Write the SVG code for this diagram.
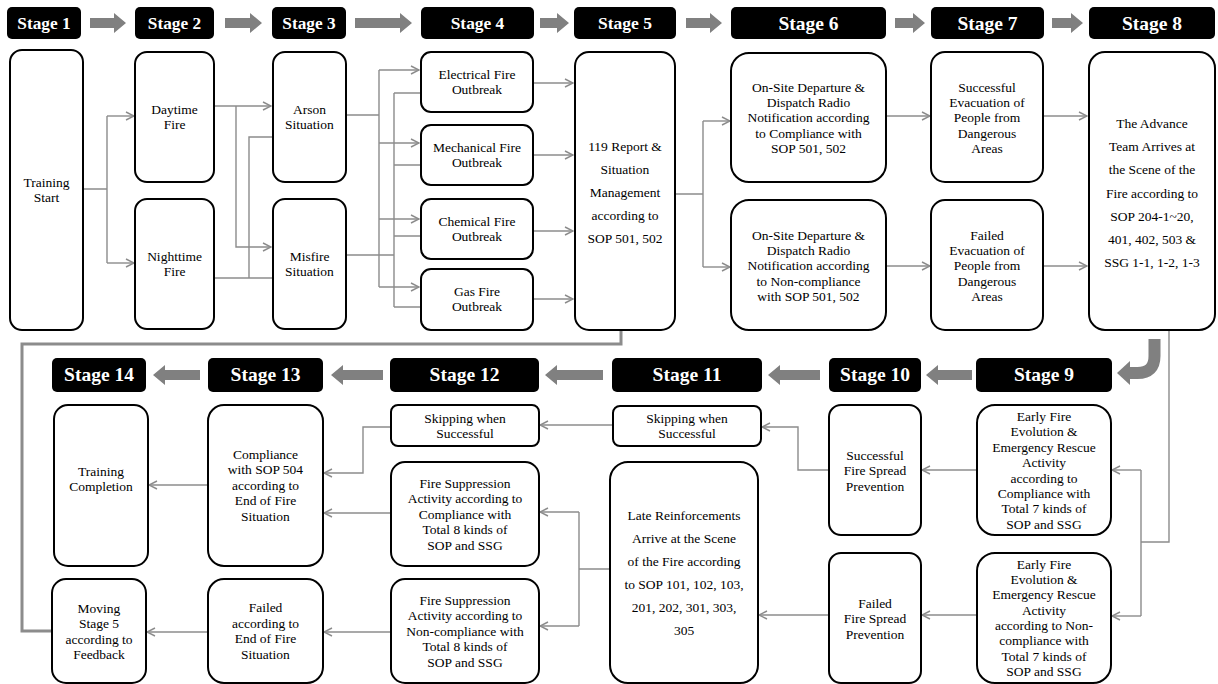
<svg xmlns="http://www.w3.org/2000/svg" width="1218" height="684" viewBox="0 0 1218 684">
<defs>
<marker id="ah" viewBox="0 0 10 10" refX="9" refY="5" markerWidth="10" markerHeight="10" markerUnits="userSpaceOnUse" orient="auto">
<path d="M1,1 L9,5 L1,9" fill="none" stroke="#8c8c8c" stroke-width="1.4"/>
</marker>
<marker id="ahThick" viewBox="0 0 14 14" refX="12" refY="7" markerWidth="14" markerHeight="14" markerUnits="userSpaceOnUse" orient="auto">
<path d="M2,1 L12,7 L2,13" fill="none" stroke="#8c8c8c" stroke-width="2.6"/>
</marker>
<style>
.hdr{fill:#000;}
.ht{font-family:'Liberation Serif','DejaVu Serif',serif;font-weight:bold;fill:#fff;text-anchor:middle;}
.box{fill:#fff;stroke:#000;stroke-width:2;}
.t{font-family:'Liberation Serif','DejaVu Serif',serif;font-size:13.5px;fill:#000;text-anchor:middle;}
.big{fill:#808080;}
.c{fill:none;stroke:#8c8c8c;stroke-width:1.4;}
.ca{fill:none;stroke:#8c8c8c;stroke-width:1.4;marker-end:url(#ah);}
</style>
</defs>

<!-- Stage headers -->
<g id="headers">
<rect class="hdr" x="7" y="7" width="74" height="32" rx="5"/><text class="ht" x="44" y="29" font-size="17.3">Stage 1</text>
<rect class="hdr" x="135" y="7" width="79" height="32" rx="5"/><text class="ht" x="174.5" y="29" font-size="17.3">Stage 2</text>
<rect class="hdr" x="272" y="7" width="74" height="32" rx="5"/><text class="ht" x="309" y="29" font-size="17.3">Stage 3</text>
<rect class="hdr" x="421" y="7" width="113" height="32" rx="5"/><text class="ht" x="477.5" y="29" font-size="17.4">Stage 4</text>
<rect class="hdr" x="574" y="7" width="102" height="32" rx="5"/><text class="ht" x="625" y="29" font-size="17.5">Stage 5</text>
<rect class="hdr" x="731" y="7" width="155" height="32" rx="5"/><text class="ht" x="808.5" y="30" font-size="19.5">Stage 6</text>
<rect class="hdr" x="931" y="7" width="113" height="32" rx="5"/><text class="ht" x="987.5" y="30" font-size="19.5">Stage 7</text>
<rect class="hdr" x="1089" y="7" width="126" height="32" rx="5"/><text class="ht" x="1152" y="30" font-size="19.5">Stage 8</text>

<rect class="hdr" x="976" y="358" width="136" height="34" rx="5"/><text class="ht" x="1044" y="381" font-size="19.5">Stage 9</text>
<rect class="hdr" x="829" y="358" width="92" height="34" rx="5"/><text class="ht" x="875" y="381" font-size="19.5">Stage 10</text>
<rect class="hdr" x="612" y="358" width="150" height="34" rx="5"/><text class="ht" x="687" y="381" font-size="19.5">Stage 11</text>
<rect class="hdr" x="390" y="358" width="149" height="34" rx="5"/><text class="ht" x="464.5" y="381" font-size="19.5">Stage 12</text>
<rect class="hdr" x="208" y="358" width="115" height="34" rx="5"/><text class="ht" x="265.5" y="381" font-size="19.5">Stage 13</text>
<rect class="hdr" x="52" y="358" width="94" height="34" rx="5"/><text class="ht" x="99" y="381" font-size="19.5">Stage 14</text>
</g>

<!-- Big stage arrows -->
<g id="stage-arrows">
<polygon class="big" points="90,18 114,18 114,13 126,23 114,33 114,28 90,28"/>
<polygon class="big" points="225,18 250,18 250,13 262,23 250,33 250,28 225,28"/>
<polygon class="big" points="355,18 400,18 400,13 412,23 400,33 400,28 355,28"/>
<polygon class="big" points="540,18 557,18 557,13 569,23 557,33 557,28 540,28"/>
<polygon class="big" points="686,18 710,18 710,13 722,23 710,33 710,28 686,28"/>
<polygon class="big" points="895,18 913,18 913,13 925,23 913,33 913,28 895,28"/>
<polygon class="big" points="1052,18 1071,18 1071,13 1083,23 1071,33 1071,28 1052,28"/>

<path d="M1154.5,339 V356 Q1154.5,373 1137.5,373 H1128" fill="none" stroke="#808080" stroke-width="12"/>
<polygon class="big" points="1117,373 1130,361 1130,385"/>

<polygon class="big" points="972,370 938,370 938,365 926,375 938,385 938,380 972,380"/>
<polygon class="big" points="820,370 780,370 780,365 768,375 780,385 780,380 820,380"/>
<polygon class="big" points="603,370 557,370 557,365 545,375 557,385 557,380 603,380"/>
<polygon class="big" points="383,370 343,370 343,365 331,375 343,385 343,380 383,380"/>
<polygon class="big" points="200,370 165,370 165,365 153,375 165,385 165,380 200,380"/>
</g>

<!-- Connectors -->
<g id="connectors">
<path class="c" d="M83,189 H107 M107,116 V263"/>
<path class="ca" d="M107,116 H134"/>
<path class="ca" d="M107,263 H134"/>
<path class="ca" d="M214,106 H271"/>
<path class="ca" d="M236,106 V247 H271"/>
<path class="ca" d="M214,278 H285"/>
<path class="ca" d="M249,278 V137 H285"/>

<path class="c" d="M346,115 H379 M379,70 V287"/>
<path class="ca" d="M379,70 H419"/>
<path class="ca" d="M379,143 H419"/>
<path class="ca" d="M379,219 H419"/>
<path class="ca" d="M379,287 H419"/>
<path class="c" d="M346,255 H394 M394,93 V307"/>
<path class="ca" d="M394,93 H445"/>
<path class="ca" d="M394,165 H445"/>
<path class="ca" d="M394,236 H445"/>
<path class="ca" d="M394,307 H445"/>

<path class="ca" d="M533,83 H573"/>
<path class="ca" d="M533,155 H573"/>
<path class="ca" d="M533,231 H573"/>
<path class="ca" d="M533,299 H573"/>

<path class="c" d="M675,194 H703 M703,121 V267"/>
<path class="ca" d="M703,121 H730"/>
<path class="ca" d="M703,267 H730"/>
<path class="ca" d="M886,116 H930"/>
<path class="ca" d="M886,266 H930"/>
<path class="ca" d="M1043,116 H1087"/>
<path class="ca" d="M1043,266 H1087"/>

<path class="c" d="M1169,330 V542 H1141 M1141,470 V616"/>
<path class="ca" d="M1141,470 H1112"/>
<path class="ca" d="M1141,616 H1112"/>
<path class="ca" d="M977,470 H922"/>
<path class="ca" d="M977,615 H922"/>
<path class="ca" d="M829,470 H798 V427 H762"/>
<path class="ca" d="M829,615 H759"/>
<path class="ca" d="M613,425 H540"/>
<path class="c" d="M610,569 H579 M579,512 V626"/>
<path class="ca" d="M579,512 H540"/>
<path class="ca" d="M579,626 H540"/>
<path class="ca" d="M391,427 H363 V473 H324"/>
<path class="ca" d="M391,513 H324"/>
<path class="ca" d="M391,632 H324"/>
<path class="ca" d="M208,485 H149"/>
<path class="ca" d="M208,632 H147"/>

<path d="M52,631 H22 V344 H621 V313" fill="none" stroke="#8c8c8c" stroke-width="3" marker-end="url(#ahThick)"/>
</g>

<!-- Nodes -->
<g id="n1"><rect class="box" x="10" y="50" width="73" height="280" rx="12"/>
<text class="t" x="46.5" y="186.5">Training</text><text class="t" x="46.5" y="201.5">Start</text></g>

<g id="n2a"><rect class="box" x="135" y="52" width="79" height="130" rx="12"/>
<text class="t" x="174.5" y="113.5">Daytime</text><text class="t" x="174.5" y="128.5">Fire</text></g>
<g id="n2b"><rect class="box" x="135" y="199" width="79" height="130" rx="12"/>
<text class="t" x="174.5" y="261">Nighttime</text><text class="t" x="174.5" y="276">Fire</text></g>

<g id="n3a"><rect class="box" x="273" y="52" width="73" height="130" rx="12"/>
<text class="t" x="309.5" y="113.5">Arson</text><text class="t" x="309.5" y="128.5">Situation</text></g>
<g id="n3b"><rect class="box" x="273" y="199" width="73" height="130" rx="12"/>
<text class="t" x="309.5" y="260.5">Misfire</text><text class="t" x="309.5" y="275.5">Situation</text></g>

<g id="n4a"><rect class="box" x="421" y="52" width="112" height="60" rx="10"/>
<text class="t" x="477" y="78.5">Electrical Fire</text><text class="t" x="477" y="93.5">Outbreak</text></g>
<g id="n4b"><rect class="box" x="421" y="125" width="112" height="60" rx="10"/>
<text class="t" x="477" y="151.5">Mechanical Fire</text><text class="t" x="477" y="166.5">Outbreak</text></g>
<g id="n4c"><rect class="box" x="421" y="199" width="112" height="60" rx="10"/>
<text class="t" x="477" y="225.5">Chemical Fire</text><text class="t" x="477" y="240.5">Outbreak</text></g>
<g id="n4d"><rect class="box" x="421" y="269" width="112" height="61" rx="10"/>
<text class="t" x="477" y="296">Gas Fire</text><text class="t" x="477" y="311">Outbreak</text></g>

<g id="n5"><rect class="box" x="575" y="52" width="100" height="278" rx="14"/>
<text class="t" x="625" y="150.5">119 Report &amp;</text>
<text class="t" x="625" y="173.5">Situation</text>
<text class="t" x="625" y="196.5">Management</text>
<text class="t" x="625" y="220">according to</text>
<text class="t" x="625" y="243">SOP 501, 502</text></g>

<g id="n6a"><rect class="box" x="731" y="53" width="155" height="129" rx="18"/>
<text class="t" x="808.5" y="91.5">On-Site Departure &amp;</text>
<text class="t" x="808.5" y="106.5">Dispatch Radio</text>
<text class="t" x="808.5" y="122">Notification according</text>
<text class="t" x="808.5" y="137.5">to Compliance with</text>
<text class="t" x="808.5" y="153">SOP 501, 502</text></g>
<g id="n6b"><rect class="box" x="731" y="200" width="155" height="130" rx="18"/>
<text class="t" x="808.5" y="239.5">On-Site Departure &amp;</text>
<text class="t" x="808.5" y="254.5">Dispatch Radio</text>
<text class="t" x="808.5" y="270">Notification according</text>
<text class="t" x="808.5" y="285.5">to Non-compliance</text>
<text class="t" x="808.5" y="301">with SOP 501, 502</text></g>

<g id="n7a"><rect class="box" x="931" y="52" width="112" height="130" rx="14"/>
<text class="t" x="987" y="91.5">Successful</text>
<text class="t" x="987" y="106.5">Evacuation of</text>
<text class="t" x="987" y="122">People from</text>
<text class="t" x="987" y="137.5">Dangerous</text>
<text class="t" x="987" y="153">Areas</text></g>
<g id="n7b"><rect class="box" x="931" y="200" width="112" height="130" rx="14"/>
<text class="t" x="987" y="239.5">Failed</text>
<text class="t" x="987" y="254.5">Evacuation of</text>
<text class="t" x="987" y="270">People from</text>
<text class="t" x="987" y="285.5">Dangerous</text>
<text class="t" x="987" y="301">Areas</text></g>

<g id="n8"><rect class="box" x="1089" y="52" width="126" height="278" rx="16"/>
<text class="t" x="1152" y="127.5">The Advance</text>
<text class="t" x="1152" y="151">Team Arrives at</text>
<text class="t" x="1152" y="174">the Scene of the</text>
<text class="t" x="1152" y="197.5">Fire according to</text>
<text class="t" x="1152" y="220.5">SOP 204-1~20,</text>
<text class="t" x="1152" y="243.5">401, 402, 503 &amp;</text>
<text class="t" x="1152" y="267">SSG 1-1, 1-2, 1-3</text></g>

<g id="n9a"><rect class="box" x="977" y="405" width="134" height="130" rx="18"/>
<text class="t" x="1044" y="420.5">Early Fire</text>
<text class="t" x="1044" y="435.5">Evolution &amp;</text>
<text class="t" x="1044" y="451.5">Emergency Rescue</text>
<text class="t" x="1044" y="467">Activity</text>
<text class="t" x="1044" y="482.5">according to</text>
<text class="t" x="1044" y="497.5">Compliance with</text>
<text class="t" x="1044" y="513">Total 7 kinds of</text>
<text class="t" x="1044" y="528.5">SOP and SSG</text></g>
<g id="n9b"><rect class="box" x="977" y="553" width="134" height="130" rx="18"/>
<text class="t" x="1044" y="568.5">Early Fire</text>
<text class="t" x="1044" y="583.5">Evolution &amp;</text>
<text class="t" x="1044" y="599">Emergency Rescue</text>
<text class="t" x="1044" y="614.5">Activity</text>
<text class="t" x="1044" y="630">according to Non-</text>
<text class="t" x="1044" y="645">compliance with</text>
<text class="t" x="1044" y="660.5">Total 7 kinds of</text>
<text class="t" x="1044" y="676">SOP and SSG</text></g>

<g id="n10a"><rect class="box" x="829" y="405" width="92" height="130" rx="12"/>
<text class="t" x="875" y="459.5">Successful</text>
<text class="t" x="875" y="474.5">Fire Spread</text>
<text class="t" x="875" y="490.5">Prevention</text></g>
<g id="n10b"><rect class="box" x="829" y="553" width="92" height="130" rx="12"/>
<text class="t" x="875" y="607.5">Failed</text>
<text class="t" x="875" y="622.5">Fire Spread</text>
<text class="t" x="875" y="638.5">Prevention</text></g>

<g id="n11a"><rect class="box" x="613" y="406" width="148" height="40" rx="7"/>
<text class="t" x="687" y="422.5">Skipping when</text>
<text class="t" x="687" y="437.5">Successful</text></g>
<g id="n11b"><rect class="box" x="610" y="462" width="148" height="221" rx="18"/>
<text class="t" x="684" y="519.5">Late Reinforcements</text>
<text class="t" x="684" y="542.5">Arrive at the Scene</text>
<text class="t" x="684" y="565.5">of the Fire according</text>
<text class="t" x="684" y="589">to SOP 101, 102, 103,</text>
<text class="t" x="684" y="612">201, 202, 301, 303,</text>
<text class="t" x="684" y="635">305</text></g>

<g id="n12a"><rect class="box" x="391" y="405" width="148" height="41" rx="7"/>
<text class="t" x="465" y="422.5">Skipping when</text>
<text class="t" x="465" y="437.5">Successful</text></g>
<g id="n12b"><rect class="box" x="391" y="462" width="148" height="104" rx="14"/>
<text class="t" x="465" y="487.5">Fire Suppression</text>
<text class="t" x="465" y="502.5">Activity according to</text>
<text class="t" x="465" y="518.5">Compliance with</text>
<text class="t" x="465" y="533.5">Total 8 kinds of</text>
<text class="t" x="465" y="549.5">SOP and SSG</text></g>
<g id="n12c"><rect class="box" x="391" y="579" width="148" height="104" rx="14"/>
<text class="t" x="465" y="604.5">Fire Suppression</text>
<text class="t" x="465" y="619.5">Activity according to</text>
<text class="t" x="465" y="635.5">Non-compliance with</text>
<text class="t" x="465" y="650.5">Total 8 kinds of</text>
<text class="t" x="465" y="666.5">SOP and SSG</text></g>

<g id="n13a"><rect class="box" x="208" y="405" width="115" height="161" rx="16"/>
<text class="t" x="265.5" y="458.5">Compliance</text>
<text class="t" x="265.5" y="473.5">with SOP 504</text>
<text class="t" x="265.5" y="489.5">according to</text>
<text class="t" x="265.5" y="504.5">End of Fire</text>
<text class="t" x="265.5" y="520.5">Situation</text></g>
<g id="n13b"><rect class="box" x="208" y="579" width="115" height="104" rx="16"/>
<text class="t" x="265.5" y="611.5">Failed</text>
<text class="t" x="265.5" y="627.5">according to</text>
<text class="t" x="265.5" y="642.5">End of Fire</text>
<text class="t" x="265.5" y="658.5">Situation</text></g>

<g id="n14a"><rect class="box" x="54" y="405" width="94" height="161" rx="14"/>
<text class="t" x="101" y="475.5">Training</text>
<text class="t" x="101" y="490.5">Completion</text></g>
<g id="n14b"><rect class="box" x="52" y="579" width="94" height="104" rx="14"/>
<text class="t" x="99" y="612.5">Moving</text>
<text class="t" x="99" y="627.5">Stage 5</text>
<text class="t" x="99" y="643.5">according to</text>
<text class="t" x="99" y="658.5">Feedback</text></g>
</svg>
